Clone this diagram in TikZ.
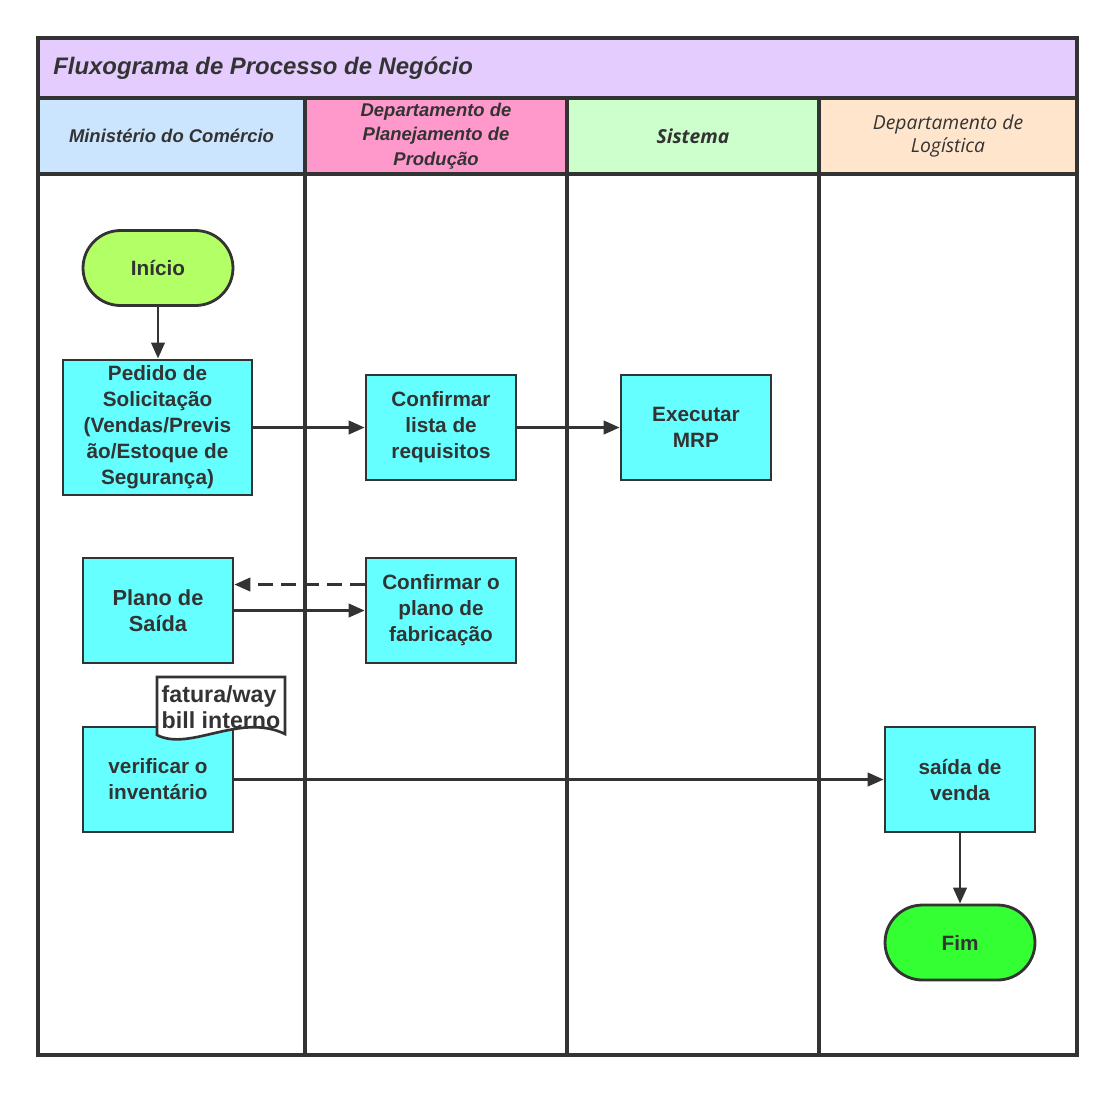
\documentclass[tikz,border=0pt]{standalone}
\usepackage{fontspec}
\setmainfont{Liberation Sans}
\newfontfamily\opensans{Open Sans}
\usetikzlibrary{arrows.meta,positioning}
\definecolor{Ink}{HTML}{333333}
\definecolor{TitleBg}{HTML}{E5CCFF}
\definecolor{ComBg}{HTML}{CCE5FF}
\definecolor{PlanBg}{HTML}{FF99CC}
\definecolor{SysBg}{HTML}{CCFFCC}
\definecolor{LogBg}{HTML}{FFE5CC}
\definecolor{Task}{HTML}{66FFFF}
\definecolor{StartG}{HTML}{B3FF66}
\definecolor{EndG}{HTML}{33FF33}
\newcommand{\taskfont}{\fontsize{11.8}{14.8}\selectfont\bfseries}
\newcommand{\headfont}{\fontsize{10.5}{13.9}\selectfont\bfseries\itshape}

\begin{document}
\begin{tikzpicture}[x=0.02cm,y=-0.02cm,every node/.style={align=center,text=Ink},
  lanehead/.style={draw=Ink,line width=1.8pt,inner sep=1pt,minimum height=1.52cm,font=\headfont},
  task/.style={draw=Ink,line width=1.6pt,fill=Task,minimum width=3cm,minimum height=2.1cm,font=\taskfont},
  term/.style={draw=Ink,line width=1.6pt,rounded corners=0.75cm,minimum width=3cm,minimum height=1.5cm,font=\taskfont},
  flow/.style={draw=Ink,line width=1.5pt,-{Triangle[length=0.32cm,width=0.27cm]}}]
  \useasboundingbox (0,0) rectangle (1114,1093);
  % title band
  \node[draw=Ink,line width=2pt,fill=TitleBg,minimum width=20.78cm,minimum height=1.2cm] (title) at (557.5,68) {};
  \node[anchor=west,inner sep=0pt,font=\fontsize{13.6}{16}\selectfont\bfseries\itshape] (titletext) at (53,68) {Fluxograma de Processo de Negócio};
  % lane headers
  \node[lanehead,fill=ComBg,minimum width=5.34cm] (hcom) at (171.5,136) {Ministério do Comércio};
  \node[lanehead,fill=PlanBg,minimum width=5.24cm] (hplan) at (436,136) {Departamento de\\Planejamento de\\Produção};
  \node[lanehead,fill=SysBg,minimum width=5.04cm,font=\fontsize{11}{14}\selectfont\opensans\bfseries\itshape] (hsys) at (693,136) {Sistema};
  \node[lanehead,fill=LogBg,minimum width=5.16cm,font=\fontsize{11}{13.5}\selectfont\opensans\itshape] (hlog) at (948,136) {Departamento de\\Logística};
  % lanes
  \draw[Ink,line width=1.8pt] (305,174) -- (305,1055) (567,174) -- (567,1055) (819,174) -- (819,1055);
  \draw[Ink,line width=2pt] (38,38) rectangle (1077,1055);
  % Ministério do Comércio
  \node[term,fill=StartG] (ini) at (158,268) {Início};
  \node[task,minimum width=3.78cm,minimum height=2.7cm] (ped) at (157.5,427.5) {Pedido de\\Solicitação\\(Vendas/Previs\\ão/Estoque de\\Segurança)};
  \node[task,font=\fontsize{12.4}{15}\selectfont\bfseries] (plano) at (158,610.5) {Plano de\\Saída};
  \node[task] (ver) at (158,779.5) {verificar o\\inventário};
  \path[draw=Ink,fill=white,line width=1.5pt] (157,677) -- (285,677) -- (285,734) .. controls (240,712) and (190,752) .. (157,735) -- cycle;
  \node[align=left,font=\fontsize{13.2}{15}\selectfont\bfseries] (bill) at (221,707) {fatura/way\\bill interno};
  % Planejamento
  \node[task] (cl) at (441,427.5) {Confirmar\\lista de\\requisitos};
  \node[task] (cp) at (441,610.5) {Confirmar o\\plano de\\fabricação};
  % Sistema
  \node[task] (mrp) at (696,427.5) {Executar\\MRP};
  % Logística
  \node[task] (sai) at (960,779.5) {saída de\\venda};
  \node[term,fill=EndG] (fim) at (960,942.5) {Fim};
  % connectors
  \draw[flow] (ini) -- (ini |- ped.north);
  \draw[flow] (ped) -- (cl);
  \draw[flow] (cl) -- (mrp);
  \draw[flow,dash pattern=on 0.3cm off 0.16cm] ([yshift=0.52cm]cp.west) -- ([yshift=0.52cm]plano.east);
  \draw[flow] (plano) -- (cp);
  \draw[flow] (ver) -- (sai);
  \draw[flow] (sai) -- (fim);
\end{tikzpicture}
\end{document}
